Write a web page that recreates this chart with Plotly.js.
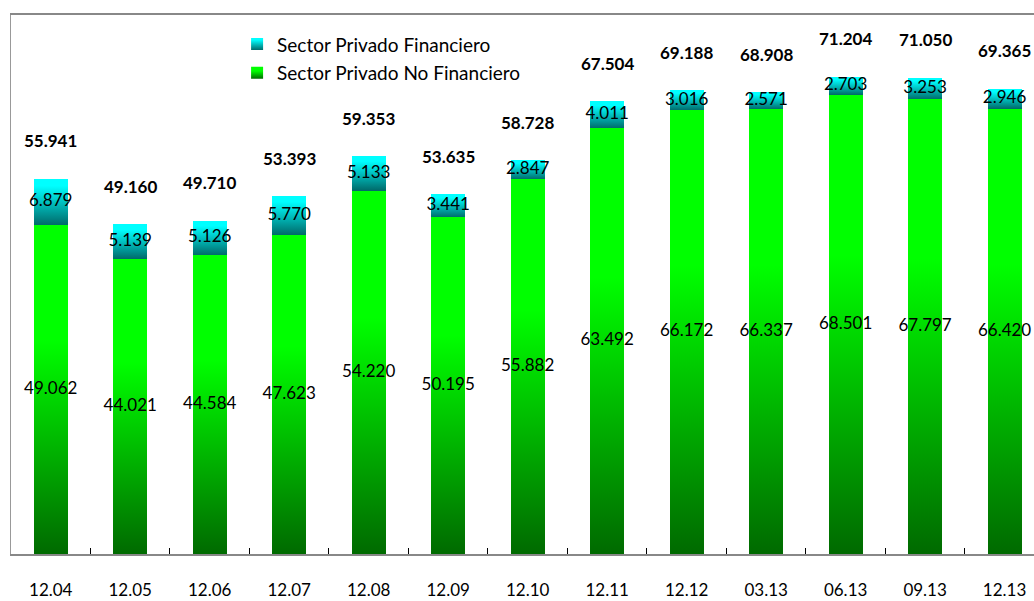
<!DOCTYPE html>
<html>
<head>
<meta charset="utf-8">
<script src="https://cdn.plot.ly/plotly-3.0.1.min.js"></script>
<style>
  html, body { margin: 0; padding: 0; background: #fff; }
  #chart { width: 1034px; height: 601px; }
</style>
</head>
<body>
<svg width="0" height="0" style="position:absolute">
  <defs>
    <linearGradient id="gGreen" x1="0" y1="0" x2="0" y2="1">
      <stop offset="0" stop-color="#00ff00"/>
      <stop offset="0.35" stop-color="#00ff00"/>
      <stop offset="1" stop-color="#006a00"/>
    </linearGradient>
    <linearGradient id="gCyan" x1="0" y1="0" x2="0" y2="1">
      <stop offset="0" stop-color="#00ffff"/>
      <stop offset="0.15" stop-color="#00ffff"/>
      <stop offset="1" stop-color="#006a6a"/>
    </linearGradient>
  </defs>
</svg>
<div id="chart"></div>
<script>
// ---- data ----
const categories = ["12.04","12.05","12.06","12.07","12.08","12.09","12.10","12.11","12.12","03.13","06.13","09.13","12.13"];
const noFinanciero = [49.062, 44.021, 44.584, 47.623, 54.220, 50.195, 55.882, 63.492, 66.172, 66.337, 68.501, 67.797, 66.420];
const financiero   = [6.879, 5.139, 5.126, 5.770, 5.133, 3.441, 2.847, 4.011, 3.016, 2.571, 2.703, 3.253, 2.946];
const totals       = [55.941, 49.160, 49.710, 53.393, 59.353, 53.635, 58.728, 67.504, 69.188, 68.908, 71.204, 71.050, 69.365];
const seriesNames  = ["Sector Privado No Financiero", "Sector Privado Financiero"];

const FONT = "Lato, 'Open Sans', sans-serif";
const fmt = v => v.toFixed(3);

const traces = [
  {
    type: "bar", name: seriesNames[0], legendgroup: "a", legendrank: 2, x: categories, y: noFinanciero,
    marker: { color: "#00dd00" }, width: 0.43, hoverinfo: "skip"
  },
  {
    type: "bar", name: seriesNames[1], legendgroup: "b", legendrank: 1, x: categories, y: financiero,
    marker: { color: "#00bbbb" }, width: 0.43, hoverinfo: "skip"
  },
  {
    type: "scatter", mode: "text", showlegend: false, hoverinfo: "skip",
    x: categories, y: noFinanciero.map(v => v / 2),
    text: noFinanciero.map(fmt), textposition: "middle center",
    textfont: { family: FONT, size: 17, color: "#000" }, cliponaxis: false
  },
  {
    type: "scatter", mode: "text", showlegend: false, hoverinfo: "skip",
    x: categories, y: noFinanciero.map((v, i) => v + financiero[i] / 2),
    text: financiero.map(fmt), textposition: "middle center",
    textfont: { family: FONT, size: 17, color: "#000" }, cliponaxis: false
  }
];

const annotations = categories.map((c, i) => ({
  x: i, y: noFinanciero[i] + financiero[i], xref: "x", yref: "y",
  text: "<b>" + fmt(totals[i]) + "</b>", showarrow: false,
  yshift: 38, yanchor: "middle",
  font: { family: FONT, size: 17, color: "#000" }
}));

const layout = {
  width: 1034, height: 601,
  margin: { l: 11, r: 0, t: 15, b: 47 },
  paper_bgcolor: "#fff", plot_bgcolor: "#fff",
  barmode: "stack",
  hovermode: false,
  showlegend: true,
  legend: {
    x: 0.221, y: 0.981, xanchor: "left", yanchor: "top",
    font: { family: FONT, size: 19, color: "#000" },
    bgcolor: "rgba(0,0,0,0)", traceorder: "grouped", tracegroupgap: 1
  },
  xaxis: {
    type: "category", range: [-0.5, 12.37],
    showline: true, linecolor: "#888", linewidth: 2, mirror: true,
    ticks: "inside", tickson: "boundaries", ticklen: 6, tickcolor: "#000", tickwidth: 1,
    showgrid: false, zeroline: false,
    tickfont: { family: FONT, size: 17, color: "#000" },
    ticklabelstandoff: 20, fixedrange: true
  },
  yaxis: {
    range: [0, 80.4], showticklabels: false, ticks: "",
    showline: true, linecolor: "#999", linewidth: 1, mirror: true,
    showgrid: false, zeroline: false, fixedrange: true
  },
  annotations: annotations
};

Plotly.newPlot("chart", traces, layout, { displayModeBar: false, staticPlot: true }).then(gd => {
  const gradFor = name => name === seriesNames[0] ? "url(#gGreen)" : "url(#gCyan)";
  gd.querySelectorAll(".barlayer .trace").forEach(tr => {
    const cd = tr.__data__;
    const name = cd && cd[0] && cd[0].trace ? cd[0].trace.name : null;
    if (!name) return;
    tr.querySelectorAll("path").forEach(p => { p.style.fill = gradFor(name); });
  });
  gd.querySelectorAll(".legend .traces").forEach(tr => {
    const d = tr.__data__;
    const name = d && d[0] && d[0].trace ? d[0].trace.name : null;
    if (!name) return;
    tr.querySelectorAll(".legendpoints path").forEach(p => { p.style.fill = gradFor(name); });
  });
});
</script>
</body>
</html>
